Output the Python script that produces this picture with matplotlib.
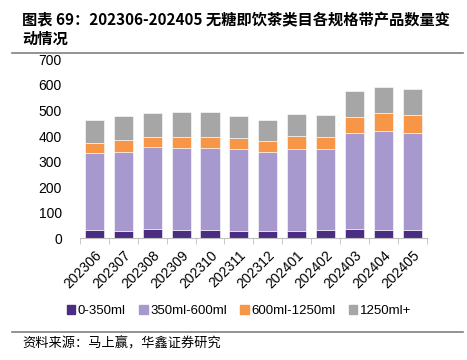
import matplotlib.pyplot as plt
import numpy as np
from matplotlib.lines import Line2D

plt.rcParams['font.family'] = ['Liberation Sans', 'Noto Sans CJK SC', 'DejaVu Sans']

months = ["202306", "202307", "202308", "202309", "202310", "202311",
          "202312", "202401", "202402", "202403", "202404", "202405"]
small = [31, 28, 36, 34, 33, 28, 28, 28, 33, 35, 34, 33]          # 0-350ml
medium = [301, 311, 320, 320, 320, 320, 309, 322, 317, 376, 386, 380]  # 350ml-600ml
large = [39, 46, 40, 42, 43, 43, 42, 51, 46, 65, 70, 68]          # 600ml-1250ml
xlarge = [91, 93, 93, 97, 98, 89, 82, 84, 86, 99, 103, 102]       # 1250ml+

labels = ["0-350ml", "350ml-600ml", "600ml-1250ml", "1250ml+"]
colors = ["#4B2C83", "#A799CD", "#F79646", "#A6A6A6"]

fig = plt.figure(figsize=(4.67, 3.6), dpi=100)
ax = fig.add_axes([80 / 467, 1 - 238.3 / 360, 346.7 / 467, 179 / 360])

x = np.arange(len(months))
bottom = np.zeros(len(months))
for vals, lab, col in zip([small, medium, large, xlarge], labels, colors):
    ax.bar(x, vals, width=0.66, bottom=bottom, color=col, label=lab,
           edgecolor="white", linewidth=0.4)
    bottom += np.array(vals)

ax.set_xlim(-0.5, len(months) - 0.5)
ax.set_ylim(0, 700)
ax.set_yticks(range(0, 701, 100))
ax.tick_params(axis="y", length=0, pad=13, labelsize=10)
for s in ["top", "right", "left"]:
    ax.spines[s].set_visible(False)
ax.spines["bottom"].set_color("#BFBFBF")

ax.set_xticks(x)
ax.set_xticklabels(months, rotation=45, ha="right", rotation_mode="anchor",
                   fontsize=10)
ax.tick_params(axis="x", length=0, pad=7)
# small boundary ticks between categories
ax.set_xticks(np.arange(-0.5, len(months), 1), minor=True)
ax.tick_params(axis="x", which="minor", length=4, color="#BFBFBF", direction="out")

handles = [plt.Rectangle((0, 0), 1, 1, color=c) for c in colors]
fig.legend(handles, labels, loc="center", bbox_to_anchor=(0.512, 1 - 311 / 360),
           ncol=4, frameon=False, fontsize=9.5, handlelength=0.65, handleheight=0.65,
           handletextpad=0.2, columnspacing=1.0)

fig.text(22 / 467, 1 - 20 / 360,
         "图表 69：202306-202405 无糖即饮茶类目各规格带产品数量变",
         fontsize=11, fontweight="bold", va="center", ha="left",
         family=["Noto Sans CJK SC"])
fig.text(22 / 467, 1 - 39 / 360, "动情况", fontsize=11, fontweight="bold",
         va="center", ha="left", family=["Noto Sans CJK SC"])

fig.add_artist(Line2D([12 / 467, 463 / 467], [1 - 53 / 360, 1 - 53 / 360],
                      color="#808080", linewidth=1.2))
fig.add_artist(Line2D([12 / 467, 463 / 467], [1 - 331.5 / 360, 1 - 331.5 / 360],
                      color="#808080", linewidth=1.2))
fig.text(22 / 467, 1 - 344 / 360, "资料来源：马上赢，华鑫证券研究", fontsize=9.5,
         va="center", ha="left", family=["Noto Sans CJK SC"])

fig.savefig("out.png", dpi=100)
